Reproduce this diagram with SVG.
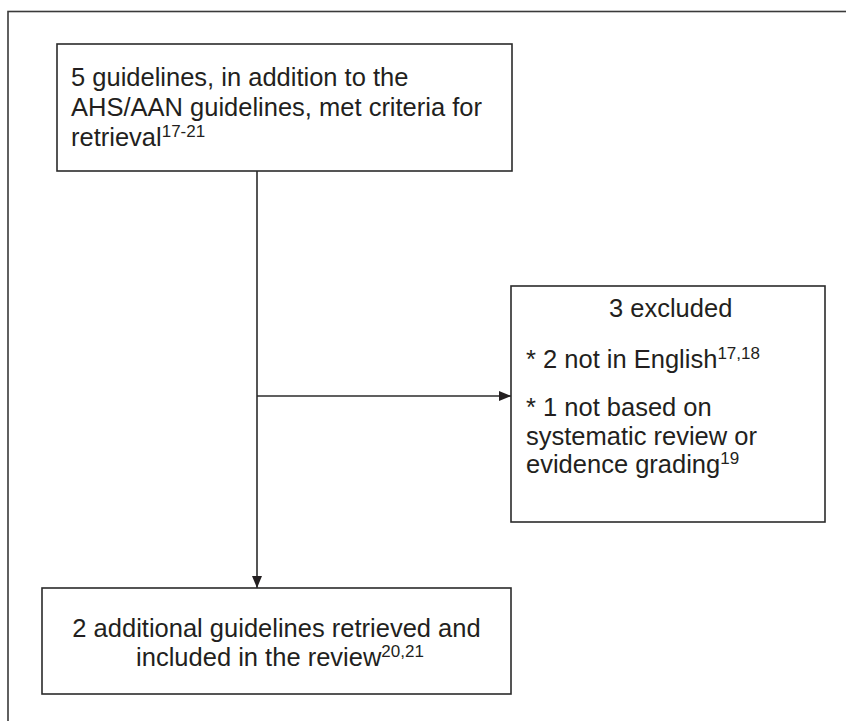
<svg xmlns="http://www.w3.org/2000/svg" width="846" height="721" viewBox="0 0 846 721">
  <style>
    .box { fill: #ffffff; stroke: #2b2b2b; stroke-width: 1.6; }
    .frame { fill: none; stroke: #3a3a3a; stroke-width: 1.6; }
    .conn { fill: none; stroke: #2b2b2b; stroke-width: 1.6; }
    text { font-family: "Liberation Sans", Arial, sans-serif; font-size: 25.5px; fill: #231f20; }
    .sup { font-size: 17px; }
  </style>
  <defs>
    <marker id="arrow" markerUnits="userSpaceOnUse" markerWidth="12" markerHeight="12" viewBox="0 0 12 12" refX="12" refY="6" orient="auto">
      <path d="M0,1 L12,6 L0,11 Z" fill="#231f20"/>
    </marker>
  </defs>
  <rect class="frame" x="8" y="11.5" width="900" height="800"/>
  <g id="connectors">
    <line class="conn" x1="257" y1="171" x2="257" y2="588" marker-end="url(#arrow)"/>
    <line class="conn" x1="257" y1="396" x2="511" y2="396" marker-end="url(#arrow)"/>
  </g>
  <g id="node-retrieval">
    <rect class="box" x="57" y="44" width="455" height="127"/>
    <text x="71" y="86">5 guidelines, in addition to the</text>
    <text x="71" y="116">AHS/AAN guidelines, met criteria for</text>
    <text x="71" y="146">retrieval<tspan class="sup" dy="-9">17-21</tspan></text>
  </g>
  <g id="node-excluded">
    <rect class="box" x="511" y="286" width="314" height="236"/>
    <text x="609" y="317">3 excluded</text>
    <text x="526" y="368">* 2 not in English<tspan class="sup" dy="-9">17,18</tspan></text>
    <text x="526" y="416">* 1 not based on</text>
    <text x="526" y="444.5">systematic review or</text>
    <text x="526" y="473">evidence grading<tspan class="sup" dy="-9">19</tspan></text>
  </g>
  <g id="node-included">
    <rect class="box" x="42" y="588" width="469" height="106"/>
    <text x="276.5" y="637" text-anchor="middle">2 additional guidelines retrieved and</text>
    <text x="280" y="665.5" text-anchor="middle">included in the review<tspan class="sup" dy="-9">20,21</tspan></text>
  </g>
</svg>
